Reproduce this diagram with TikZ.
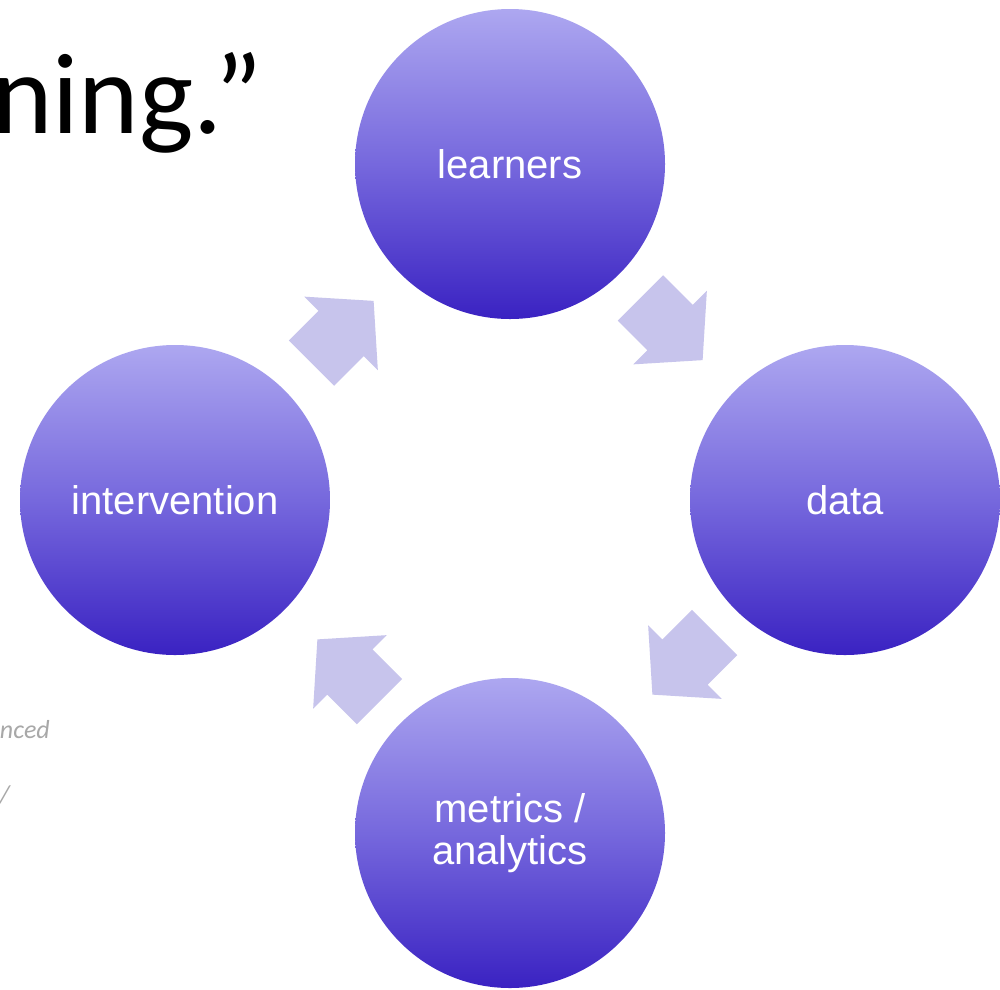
\documentclass[tikz,border=0pt]{standalone}
\usepackage{fontspec}
\setmainfont{Liberation Sans}
\newfontfamily\calibri{Carlito}
\usetikzlibrary{calc}
\definecolor{ctop}{HTML}{ADA7F0}
\definecolor{cmid}{HTML}{7668DD}
\definecolor{cbot}{HTML}{3A22C2}
\definecolor{afill}{HTML}{C7C4EC}
\definecolor{ashade}{HTML}{B4B4C4}
\definecolor{graytext}{HTML}{A8A8A8}
\begin{document}
\begin{tikzpicture}[x=1pt,y=1pt,
  stage/.style={circle, minimum size=310pt, inner sep=0pt,
    top color=ctop, bottom color=cbot, middle color=cmid,
    text=white, font=\fontsize{40}{42}\selectfont, align=center},
  blockarr/.pic={
    \fill[afill] (-44,-32) -- (-2,-32) -- (-2,-52) -- (44,0) -- (-2,52) -- (-2,32) -- (-44,32) -- cycle;
  }
]
\useasboundingbox (0,0) rectangle (1000,-989);
\fill[white] (0,0) rectangle (1000,-989);

\node[anchor=base west, inner sep=0pt, font=\calibri\fontsize{115}{120}\selectfont] (title) at (-8,-133) {ning.”};
\node[anchor=base east, inner sep=0pt, text=graytext, font=\calibri\itshape\fontsize{26}{30}\selectfont] (note1) at (50,-738) {nced};
\node[anchor=base east, inner sep=0pt, text=graytext, font=\calibri\itshape\fontsize{26}{30}\selectfont] (note2) at (10,-803) {/};

\node[stage] (learners) at (510,-164) {learners};
\node[stage] (data) at (845,-500) {data};
\node[stage] (metrics) at (510,-833) {metrics /\\analytics};
\node[stage] (intervention) at (175,-500) {intervention};

\pic[rotate=45] at ($(intervention)!0.5!(learners)$) {blockarr};
\pic[rotate=-45] at ($($(learners)!0.5!(data)$)+(-6,3)$) {blockarr};
\pic[rotate=-135] at ($($(data)!0.5!(metrics)$)+(6,3)$) {blockarr};
\pic[rotate=135] at ($($(metrics)!0.5!(intervention)$)+(6,-4)$) {blockarr};
\end{tikzpicture}
\end{document}
